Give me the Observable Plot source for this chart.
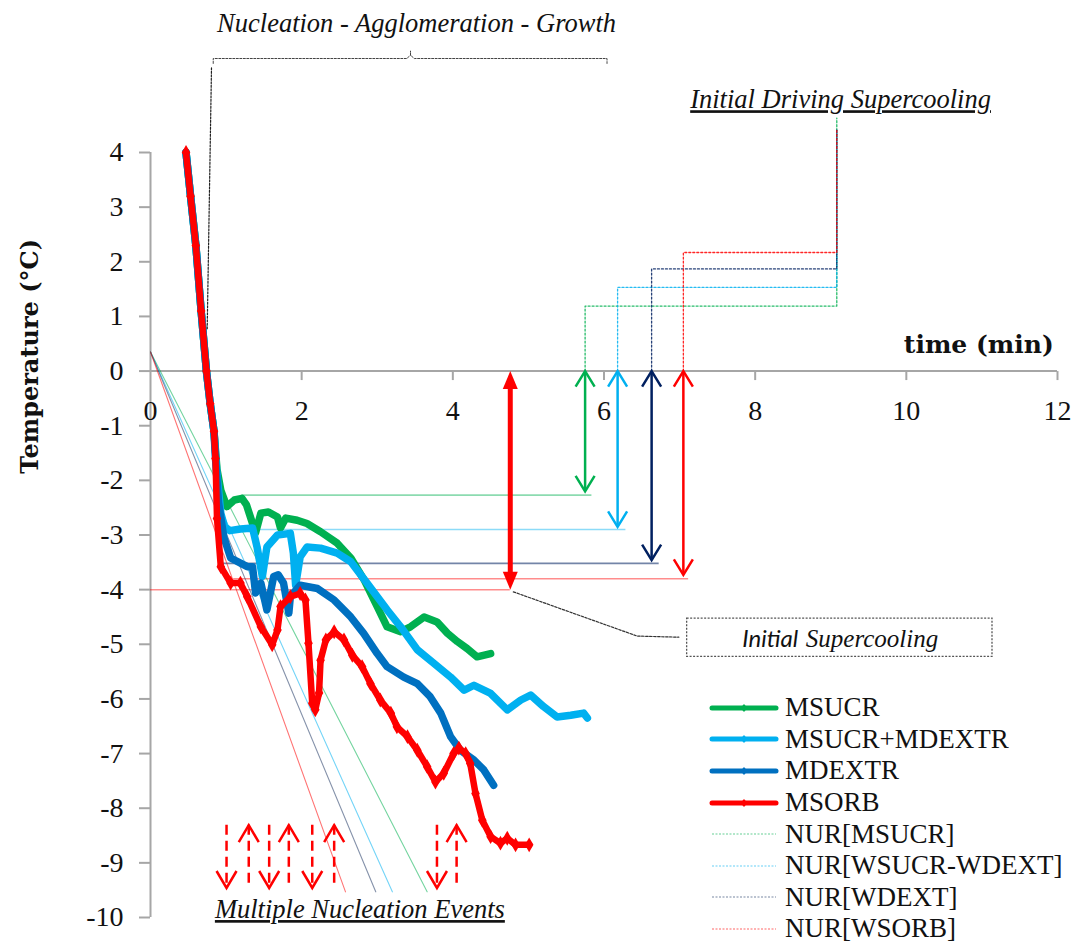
<!DOCTYPE html>
<html><head><meta charset="utf-8">
<script src="https://cdn.jsdelivr.net/npm/d3@7"></script>
<script src="https://cdn.jsdelivr.net/npm/@observablehq/plot@0.6"></script>
<style>
body{margin:0;background:#fff;}
#wrap{position:relative;width:1078px;height:942px;overflow:hidden;}
#legend{position:absolute;left:708px;top:692px;font-family:"Liberation Serif",serif;font-size:27px;color:#111;}
.row{display:flex;align-items:center;height:31.6px;white-space:nowrap;}
.row svg{margin-right:5px;flex:none;}
</style></head><body><div id="wrap"><div id="legend"></div></div>
<script>
// ---------- data ----------
const xTicks = [0, 2, 4, 6, 8, 10, 12];
const yTicks = [4, 3, 2, 1, 0, -1, -2, -3, -4, -5, -6, -7, -8, -9, -10];

const seriesNames = ["MSUCR", "MSUCR+MDEXTR", "MDEXTR", "MSORB"];
const seriesColors = ["#00B050", "#00B0F0", "#0070C0", "#FF0000"];

// shared initial cooling (time min, temperature °C)
const descent = [[0.47,4.0],[0.53,3.2],[0.6,2.3],[0.67,1.1],[0.74,0],[0.79,-0.6],[0.84,-1.1]];

const MSUCR = [[0.88,-1.8],[0.93,-2.18],[1.01,-2.48],[1.11,-2.36],[1.21,-2.33],[1.27,-2.45],[1.39,-2.96],[1.46,-2.6],[1.56,-2.58],[1.68,-2.67],[1.72,-2.87],[1.79,-2.69],[1.94,-2.73],[2.07,-2.79],[2.25,-2.94],[2.47,-3.15],[2.65,-3.42],[2.83,-3.83],[3.0,-4.31],[3.13,-4.68],[3.31,-4.77],[3.44,-4.68],[3.62,-4.5],[3.79,-4.59],[3.93,-4.8],[4.06,-4.95],[4.19,-5.08],[4.32,-5.23],[4.5,-5.17]];
const MSUCR_MDEXTR = [[0.88,-1.9],[0.93,-2.6],[0.98,-2.85],[1.05,-2.92],[1.19,-2.89],[1.35,-2.87],[1.41,-3.22],[1.48,-3.76],[1.54,-3.22],[1.68,-3.0],[1.85,-2.97],[1.89,-3.33],[1.92,-3.92],[1.98,-3.4],[2.07,-3.22],[2.25,-3.24],[2.47,-3.33],[2.65,-3.49],[2.87,-3.89],[3.13,-4.37],[3.31,-4.68],[3.53,-5.1],[3.75,-5.35],[3.97,-5.6],[4.15,-5.84],[4.28,-5.75],[4.5,-5.9],[4.72,-6.2],[4.9,-6.02],[5.03,-5.93],[5.2,-6.14],[5.38,-6.33],[5.56,-6.3],[5.73,-6.26],[5.78,-6.35]];
const MDEXTR = [[0.86,-1.6],[0.9,-2.4],[0.97,-3.04],[1.06,-3.42],[1.28,-3.58],[1.35,-3.58],[1.39,-4.06],[1.46,-3.88],[1.54,-4.37],[1.63,-3.76],[1.69,-3.73],[1.76,-3.88],[1.83,-4.43],[1.85,-4.13],[1.98,-3.92],[2.21,-3.98],[2.43,-4.19],[2.65,-4.5],[2.82,-4.8],[3.0,-5.17],[3.13,-5.41],[3.35,-5.6],[3.53,-5.72],[3.7,-5.96],[3.84,-6.26],[3.97,-6.69],[4.1,-6.94],[4.28,-7.12],[4.41,-7.3],[4.54,-7.58]];
const MSORB = [[0.86,-1.6],[0.88,-2.7],[0.93,-3.58],[1.06,-3.88],[1.19,-3.88],[1.28,-4.13],[1.46,-4.68],[1.61,-5.01],[1.68,-4.74],[1.72,-4.31],[1.85,-4.13],[1.98,-4.07],[2.05,-4.19],[2.09,-4.98],[2.14,-6.08],[2.18,-6.2],[2.23,-5.89],[2.25,-5.29],[2.32,-4.92],[2.43,-4.77],[2.56,-4.92],[2.67,-5.2],[2.8,-5.41],[2.91,-5.72],[3.04,-6.02],[3.18,-6.26],[3.26,-6.51],[3.4,-6.69],[3.53,-6.94],[3.66,-7.24],[3.77,-7.52],[3.88,-7.36],[4.01,-7.0],[4.08,-6.9],[4.17,-7.0],[4.23,-7.18],[4.3,-7.73],[4.39,-8.22],[4.5,-8.52],[4.63,-8.64],[4.72,-8.55],[4.83,-8.67],[5.01,-8.67]];
const seriesData = [MSUCR, MSUCR_MDEXTR, MDEXTR, MSORB];

// nucleation-rate (NUR) straight lines
const nurNames = ["NUR[MSUCR]", "NUR[WSUCR-WDEXT]", "NUR[WDEXT]", "NUR[WSORB]"];
const nurColors = ["#00B050", "#00B0F0", "#203864", "#FF0000"];
const nurStart = [0, 0.35];
const nurEndTemp = -9.53;
const nurEndTime = [3.66, 3.2, 2.98, 2.58];

// supercooling annotations
const arrowColors = ["#00B050", "#00B0F0", "#002060", "#FF0000"];
const arrowTime = [5.75, 6.18, 6.63, 7.05];
const arrowBottom = [-2.2, -2.85, -3.46, -3.73];
const levelTemp = [-2.27, -2.9, -3.52, -3.8];
const levelStart = [1.21, 1.0, 0.9, 1.1];
const levelEnd = [5.84, 6.29, 6.73, 7.12];
const drivingLevel = [1.19, 1.53, 1.87, 2.17];
const drivingTop = [4.63, 4.41, 4.41, 4.41];
const drivingJoinTime = 9.08;
const initialSupercooling = -4;
const initialArrowTime = 4.76;

// multiple nucleation events
const nucDownTimes = [1.006, 1.57, 2.14, 3.79];
const nucUpTimes = [1.30, 1.83, 2.43, 4.05];
const nucTop = -8.31, nucBottom = -9.46;

// ---------- helpers ----------
const serif = "Liberation Serif";
const axisGray = "#a6a6a6";
const chevron = {draw(ctx){ ctx.moveTo(-9.5, 15.5); ctx.lineTo(0, 0); ctx.lineTo(9.5, 15.5); }};
const chevronDash = {draw(ctx){ ctx.moveTo(-10, 17); ctx.lineTo(0, 0); ctx.lineTo(10, 17); }};
const headFilled = {draw(ctx){ ctx.moveTo(0, 0); ctx.lineTo(7.5, 18); ctx.lineTo(-7.5, 18); ctx.closePath(); }};
const tickDown = {draw(ctx){ ctx.moveTo(0, 0); ctx.lineTo(0, 9); }};

const marks = [];

// axes
marks.push(Plot.ruleX([0], {y1: -10, y2: 4, stroke: axisGray, strokeWidth: 2}));
marks.push(Plot.ruleY([0], {x1: 0, x2: 12, stroke: axisGray, strokeWidth: 2}));
marks.push(Plot.dot(xTicks.filter(d => d > 0), {x: d => d, y: 0, symbol: tickDown, stroke: axisGray, strokeWidth: 2, fill: "none"}));
marks.push(Plot.text(xTicks, {x: d => d, y: 0, dy: 40, text: d => String(d), fontSize: 28, fontFamily: serif, fill: "#111"}));
marks.push(Plot.axisY(yTicks, {tickSize: 11, tickPadding: 16, fontSize: 28, fontFamily: serif, stroke: axisGray, strokeWidth: 2, fill: "#111", tickFormat: d => String(d), label: null}));
marks.push(Plot.text(["Temperature (°C)"], {x: 0, y: 0.27, dx: -120, rotate: -90, text: d => d, fontSize: 24, fontWeight: "bold", fontFamily: "DejaVu Serif", fill: "#111"}));
marks.push(Plot.text(["time (min)"], {x: 11.95, y: 0.33, text: d => d, textAnchor: "end", lineAnchor: "bottom", fontSize: 25, fontWeight: "bold", fontFamily: "DejaVu Serif", fill: "#111"}));

// supercooling level lines
marks.push(Plot.ruleY([initialSupercooling], {x1: 0, x2: initialArrowTime, stroke: "#FF0000", strokeOpacity: 0.45, strokeWidth: 1.5}));
levelTemp.forEach((v, i) => {
  marks.push(Plot.ruleY([v], {x1: levelStart[i], x2: levelEnd[i], stroke: arrowColors[i], strokeOpacity: i === 2 ? 0.55 : 0.45, strokeWidth: 1.6}));
});

// NUR lines
nurNames.forEach((n, i) => {
  marks.push(Plot.line([nurStart, [nurEndTime[i], nurEndTemp]], {x: d => d[0], y: d => d[1], stroke: nurColors[i], strokeOpacity: 0.55, strokeWidth: 1.1}));
});

// measured curves
seriesNames.forEach((name, i) => {
  const pts = descent.concat(seriesData[i]);
  marks.push(Plot.line(pts, {x: d => d[0], y: d => d[1], stroke: seriesColors[i], strokeWidth: i === 3 ? 6.5 : 7.5, strokeLinejoin: "round", strokeLinecap: "round"}));
  if (i === 3) marks.push(Plot.dot(pts, {x: d => d[0], y: d => d[1], symbol: "diamond", r: 4.5, fill: seriesColors[i]}));
});

// driving supercooling dotted leaders
arrowTime.forEach((t, i) => {
  const path = [[t, 0], [t, drivingLevel[i]], [drivingJoinTime, drivingLevel[i]], [drivingJoinTime, drivingTop[i]]];
  marks.push(Plot.line(path, {x: d => d[0], y: d => d[1], stroke: arrowColors[i], strokeOpacity: 0.85, strokeWidth: 1.3, strokeDasharray: "2,2"}));
});

// colored double arrows
arrowTime.forEach((t, i) => {
  marks.push(Plot.ruleX([t], {y1: 0, y2: arrowBottom[i], stroke: arrowColors[i], strokeWidth: 2.5, insetTop: 1, insetBottom: 1}));
  marks.push(Plot.dot([t], {x: d => d, y: 0, symbol: chevron, stroke: arrowColors[i], strokeWidth: 2.5, fill: "none"}));
  marks.push(Plot.dot([t], {x: d => d, y: arrowBottom[i], symbol: chevron, rotate: 180, stroke: arrowColors[i], strokeWidth: 2.5, fill: "none"}));
});

// big red initial supercooling arrow
marks.push(Plot.ruleX([initialArrowTime], {y1: 0, y2: initialSupercooling, stroke: "#FF0000", strokeWidth: 5, insetTop: 12, insetBottom: 12}));
marks.push(Plot.dot([initialArrowTime], {x: d => d, y: 0, symbol: headFilled, fill: "#FF0000", stroke: "none"}));
marks.push(Plot.dot([initialArrowTime], {x: d => d, y: initialSupercooling, symbol: headFilled, rotate: 180, fill: "#FF0000", stroke: "none"}));

// multiple nucleation dashed arrows
nucDownTimes.forEach(t => {
  marks.push(Plot.ruleX([t], {y1: nucTop, y2: nucBottom, stroke: "#FF0000", strokeWidth: 2.5, strokeDasharray: "10,6"}));
  marks.push(Plot.dot([t], {x: d => d, y: nucBottom, symbol: chevronDash, rotate: 180, stroke: "#FF0000", strokeWidth: 2.5, fill: "none"}));
});
nucUpTimes.forEach(t => {
  marks.push(Plot.ruleX([t], {y1: nucTop, y2: nucBottom, stroke: "#FF0000", strokeWidth: 2.5, strokeDasharray: "10,6"}));
  marks.push(Plot.dot([t], {x: d => d, y: nucTop, symbol: chevronDash, stroke: "#FF0000", strokeWidth: 2.5, fill: "none"}));
});

// Nucleation - Agglomeration - Growth bracket
const brace = [[0.83,5.63],[0.83,5.72],[3.39,5.72],[3.44,5.78],[3.44,5.86],[3.44,5.78],[3.49,5.72],[6.04,5.72],[6.04,5.63]];
marks.push(Plot.line(brace, {x: d => d[0], y: d => d[1], stroke: "#444", strokeWidth: 1, strokeDasharray: "2,1.5"}));
marks.push(Plot.line([[0.807,5.55],[0.75,0.75]], {x: d => d[0], y: d => d[1], stroke: "#222", strokeWidth: 1.2, strokeDasharray: "2,1.5"}));
marks.push(Plot.text(["Nucleation - Agglomeration - Growth"], {x: 3.52, y: 6.21, text: d => d, lineAnchor: "bottom", fontSize: 26.5, fontStyle: "italic", fontFamily: serif, fill: "#111"}));

// Initial Driving Supercooling
marks.push(Plot.text(["Initial Driving Supercooling"], {x: 9.13, y: 4.81, text: d => d, lineAnchor: "bottom", fontSize: 26.5, fontStyle: "italic", fontFamily: serif, fill: "#111"}));

// Initial Supercooling box + leader
marks.push(Plot.line([[4.8,-4.04],[6.44,-4.85],[6.99,-4.87]], {x: d => d[0], y: d => d[1], stroke: "#333", strokeWidth: 1.2, strokeDasharray: "2.5,1.5"}));
marks.push(Plot.rect([0], {x1: 7.1, x2: 11.14, y1: -4.53, y2: -5.23, fill: "none", stroke: "#555", strokeWidth: 1.3, strokeDasharray: "2,1.5"}));
marks.push(Plot.text(["Initial"], {x: 8.57, y: -5.05, text: d => d, textAnchor: "end", lineAnchor: "bottom", fontSize: 24, fontStyle: "italic", fontFamily: "Lato", fill: "#111"}));
marks.push(Plot.text(["Supercooling"], {x: 8.67, y: -5.05, text: d => d, textAnchor: "start", lineAnchor: "bottom", fontSize: 25, fontStyle: "italic", fontFamily: serif, fill: "#111"}));

// Multiple Nucleation Events
marks.push(Plot.text(["Multiple Nucleation Events"], {x: 2.77, y: -10.01, text: d => d, lineAnchor: "bottom", fontSize: 26.5, fontStyle: "italic", fontFamily: serif, fill: "#111"}));

const svg = Plot.plot({
  width: 1078, height: 942,
  marginLeft: 150, marginRight: 21, marginTop: 152, marginBottom: 25,
  x: {domain: [0, 12], axis: null},
  y: {domain: [-10, 4], axis: null},
  style: {fontFamily: serif, background: "white", overflow: "visible"},
  marks
});
document.getElementById("wrap").prepend(svg);

const underlined = new Set(["Initial Driving Supercooling", "Multiple Nucleation Events"]);
d3.select(svg).selectAll("text").filter(function(){ return underlined.has(this.textContent); })
  .style("text-decoration", "underline");

// ---------- legend ----------
const legend = d3.select("#legend");
seriesNames.forEach((n, i) => {
  const row = legend.append("div").attr("class", "row");
  const s = row.append("svg").attr("width", 72).attr("height", 20);
  s.append("line").attr("x1", 4).attr("x2", 68).attr("y1", 10).attr("y2", 10)
    .attr("stroke", seriesColors[i]).attr("stroke-width", 5).attr("stroke-linecap", "round");
  s.append("path").attr("d", "M36,6L39.5,10L36,14L32.5,10Z").attr("fill", seriesColors[i]);
  row.append("span").text(n);
});
nurNames.forEach((n, i) => {
  const row = legend.append("div").attr("class", "row");
  const s = row.append("svg").attr("width", 72).attr("height", 20);
  s.append("line").attr("x1", 4).attr("x2", 68).attr("y1", 10).attr("y2", 10)
    .attr("stroke", nurColors[i]).attr("stroke-opacity", 0.6).attr("stroke-width", 1.2).attr("stroke-dasharray", "2,1.5");
  row.append("span").text(n);
});
</script></body></html>
